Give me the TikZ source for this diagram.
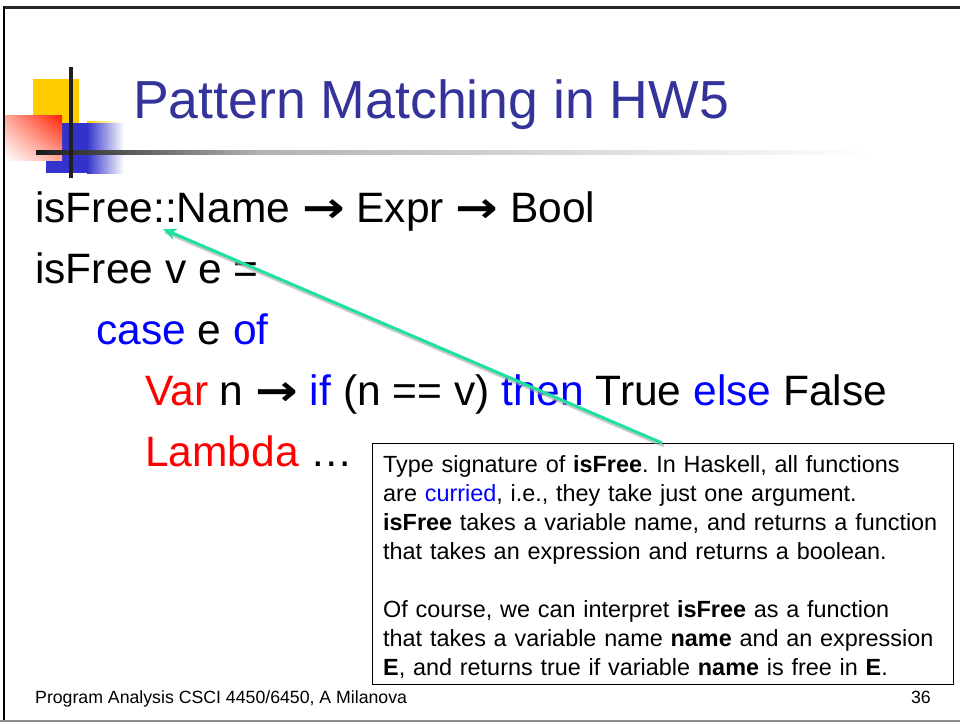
\documentclass[tikz,border=0pt]{standalone}
\usepackage{fontspec}
\setmainfont{Liberation Sans}
\newfontfamily\arrowfont{DejaVu Sans}
\usetikzlibrary{arrows.meta,calc,shadings}
\definecolor{titleblue}{RGB}{51,51,153}
\definecolor{kwblue}{RGB}{0,0,255}
\definecolor{kwred}{RGB}{255,0,0}
\definecolor{callteal}{RGB}{30,225,160}
\definecolor{decoyellow}{RGB}{255,204,0}
\definecolor{decoblue}{RGB}{51,51,204}
\definecolor{decored}{RGB}{255,34,0}
\newcommand\codearrow{ {\arrowfont\bfseries\scalebox{1.2}[1]{→}} }
\newcommand\kwb[1]{\textcolor{kwblue}{#1}}
\newcommand\kwr[1]{\textcolor{kwred}{#1}}
\frenchspacing
\begin{document}
\begin{tikzpicture}[x=1pt,y=-1pt,
  codeline/.style={anchor=base west, inner sep=0pt, font=\fontsize{42.5}{50}\selectfont},
  footline/.style={inner sep=0pt, font=\fontsize{17.7}{20}\selectfont},
  notebox/.style={draw=black, line width=1pt, fill=white, anchor=north west, inner sep=0pt, minimum width=581pt, minimum height=241pt},
  notetext/.style={anchor=north west, inner sep=0pt, text width=569pt, align=left, font=\fontsize{23.4}{29}\selectfont},
  callout/.style={callteal, line width=3pt, -{Stealth[length=13pt,width=11pt,inset=3pt]}},
  calloutshadow/.style={black!35, line width=3pt, opacity=0.6}]
\useasboundingbox (0,0) rectangle (960,724);
% frame
\draw[black!85, line width=3pt] (3,7) -- (960,7);
\draw[black, line width=2.5pt] (4,7) -- (4,721);
\draw[black!45, line width=1.5pt] (0,721) -- (960,721);
% decoration
\fill[decoyellow] (33,79) rectangle (79,125);
\shade[left color=decoyellow, right color=white] (87,121) rectangle (120,124);
\fill[decoblue] (46,123) rectangle (87,173);
\shade[left color=decoblue, right color=white] (87,123) rectangle (124,173);
\shade[upper right=decored, lower left=white, upper left=decored!40!white, lower right=decored!40!white] (5,115) rectangle (62,160);
\shade[left color=black!90, right color=black!30] (36,150) rectangle (260,154);
\shade[left color=black!30, right color=white] (260,150) rectangle (870,154);
\fill[black!88] (69,67) rectangle (73,178);
% title
\node[anchor=base west, inner sep=0pt, text=titleblue, font=\fontsize{53.6}{60}\selectfont] (title) at (133,118) {Pattern Matching in HW5};
% code
\node[codeline] (l1) at (35,222) {isFree::Name\codearrow Expr\codearrow Bool};
\node[codeline] (l2) at (35,283) {isFree v e =};
\node[codeline] (l3) at (96,344) {\kwb{case} e \kwb{of}};
\node[codeline] (l4) at (145,405) {\kwr{Var} n\codearrow\kwb{if} (n == v) \kwb{then} True \kwb{else} False};
\node[codeline] (l5) at (145,466) {\kwr{Lambda} …};
% note
\node[notebox] (note) at (372,443) {};
\node[notetext] (notetxt) at (383,455) {Type signature of \textbf{isFree}. In Haskell, all functions\\
are \kwb{curried}, i.e., they take just one argument.\\
\textbf{isFree} takes a variable name, and returns a function\\
that takes an expression and returns a boolean.\\[29pt]
Of course, we can interpret \textbf{isFree} as a function\\
that takes a variable name \textbf{name} and an expression\\
\textbf{E}, and returns true if variable \textbf{name} is free in \textbf{E}.};
% callout arrow
\coordinate (tail) at ($(note.north west)+(290,0)$);
\coordinate (tip) at (163,229);
\draw[calloutshadow] ($(tail)+(2,3)$) -- ($(tip)+(2,3)$);
\draw[callout] (tail) -- (tip);
% footer
\node[footline, anchor=base west] (foot) at (35,703) {Program Analysis CSCI 4450/6450, A Milanova};
\node[footline, anchor=base east] (page) at (931,703) {36};
\end{tikzpicture}
\end{document}
